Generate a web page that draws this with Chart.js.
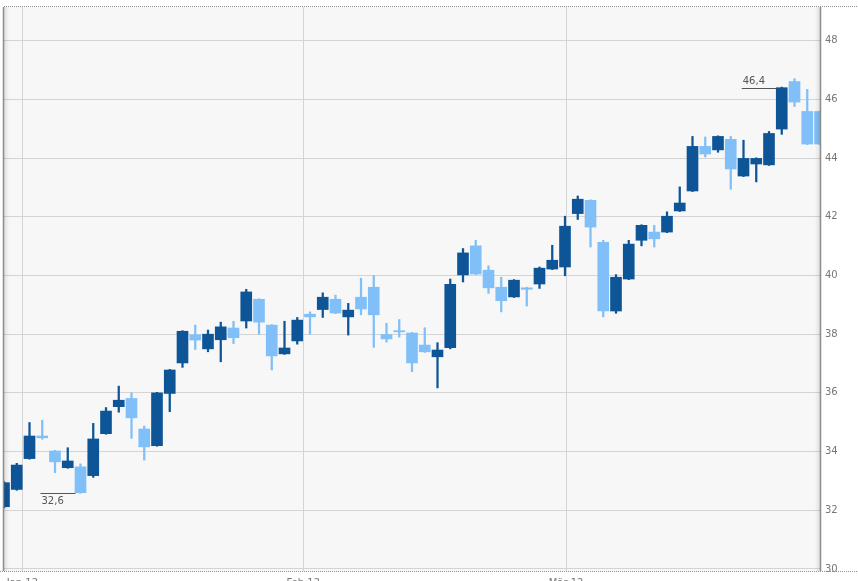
<!DOCTYPE html>
<html>
<head>
<meta charset="utf-8">
<script src="https://cdn.jsdelivr.net/npm/chart.js@4.4.1/dist/chart.umd.min.js"></script>
<style>
  html, body { margin: 0; padding: 0; background: #fff; overflow: hidden; }
  canvas { display: block; }
</style>
</head>
<body>
<canvas id="grafico" width="858" height="581"></canvas>
<script>
// daily candles, one per trading day
const openVals  = [32.12, 32.71, 33.76, 34.53, 34.02, 33.45, 33.48, 33.18, 34.61, 35.53,
                   35.81, 34.77, 34.20, 35.98, 37.02, 37.98, 37.50, 37.81, 38.21, 38.45,
                   39.19, 38.31, 37.33, 37.77, 38.68, 38.84, 39.19, 38.59, 39.26, 39.60,
                   37.99, 38.12, 38.04, 37.63, 37.23, 37.54, 40.02, 41.01, 40.18, 39.60,
                   39.27, 39.58, 39.71, 40.22, 40.29, 42.11, 42.56, 41.13, 38.79, 39.88,
                   41.20, 41.48, 41.48, 42.20, 42.88, 44.40, 44.28, 44.64, 43.39, 43.80,
                   43.77, 44.99, 46.61, 45.59, 45.59];
const highVals  = [32.98, 33.60, 34.99, 35.07, 34.04, 34.13, 33.58, 34.96, 35.50, 36.23,
                   36.00, 34.87, 36.02, 36.80, 38.12, 38.31, 38.14, 38.41, 38.44, 39.53,
                   39.21, 38.33, 38.44, 38.57, 38.76, 39.41, 39.33, 39.05, 39.91, 40.00,
                   38.37, 38.50, 38.06, 38.22, 37.71, 39.88, 40.92, 41.20, 40.33, 39.94,
                   39.86, 39.60, 40.29, 41.03, 42.02, 42.71, 42.58, 41.20, 40.03, 41.20,
                   41.73, 41.71, 42.17, 43.02, 44.74, 44.72, 44.76, 44.74, 44.61, 44.01,
                   44.91, 46.42, 46.71, 46.34, 45.61];
const lowVals   = [32.08, 32.68, 33.74, 34.42, 33.28, 33.43, 32.58, 33.12, 34.59, 35.34,
                   34.45, 33.71, 34.18, 35.36, 36.87, 37.48, 37.40, 37.06, 37.68, 38.21,
                   38.00, 36.78, 37.31, 37.66, 38.00, 38.57, 38.70, 37.97, 38.66, 37.55,
                   37.73, 37.90, 36.72, 37.38, 36.17, 37.50, 39.78, 40.03, 39.39, 38.76,
                   39.25, 38.96, 39.56, 40.20, 39.99, 41.91, 40.97, 38.59, 38.71, 39.86,
                   41.01, 40.97, 41.46, 42.18, 42.86, 44.04, 44.20, 42.94, 43.37, 43.19,
                   43.75, 44.81, 45.76, 44.46, 44.46];
const closeVals = [32.94, 33.54, 34.53, 34.47, 33.65, 33.68, 32.60, 34.43, 35.38, 35.75,
                   35.15, 34.16, 36.00, 36.78, 38.10, 37.80, 38.00, 38.25, 37.88, 39.44,
                   38.41, 37.26, 37.53, 38.48, 38.59, 39.26, 38.72, 38.82, 38.86, 38.66,
                   37.84, 38.08, 37.02, 37.40, 37.46, 39.70, 40.77, 40.05, 39.58, 39.14,
                   39.84, 39.53, 40.25, 40.52, 41.68, 42.60, 41.65, 38.79, 39.94, 41.07,
                   41.71, 41.25, 42.02, 42.47, 44.40, 44.14, 44.74, 43.63, 43.99, 43.99,
                   44.84, 46.40, 45.91, 44.48, 44.48];

const tickLabels = ['Jan 12', 'Feb 12', 'Mär 12'];
const tickAt     = [1.44, 23.47, 44.08];   // position on the trading-day axis
const yTicks     = [30, 32, 34, 36, 38, 40, 42, 44, 46, 48];

const colUp = '#0e5597';
const colDown = '#80bff7';

const idx = openVals.map((v, i) => i);
const bodyData = idx.map(i => ({ x: i, y: [openVals[i], closeVals[i]] }));
const wickData = idx.map(i => ({ x: i, y: [lowVals[i], highVals[i]] }));
const colores = idx.map(i => closeVals[i] >= openVals[i] ? colUp : colDown);

function fmt(v) {
    return v.toFixed(1).replace('.', ',');
}

// background, borders and dotted frame
const marco = {
    id: 'marco',
    beforeDraw(chart) {
        const c = chart.ctx;
        const a = chart.chartArea;
        c.save();
        c.fillStyle = '#f7f7f7';
        c.fillRect(a.left, a.top, a.right - a.left, a.bottom - a.top);
        c.restore();
    },
    afterDatasetsDraw(chart) {
        const c = chart.ctx;
        const a = chart.chartArea;
        const w = chart.width;
        c.save();
        // shadows
        let g = c.createLinearGradient(a.left, 0, a.left + 5, 0);
        g.addColorStop(0, 'rgba(0,0,0,0.10)');
        g.addColorStop(1, 'rgba(0,0,0,0)');
        c.fillStyle = g;
        c.fillRect(a.left, a.top, 5, a.bottom - a.top);
        g = c.createLinearGradient(a.right, 0, a.right - 5, 0);
        g.addColorStop(0, 'rgba(0,0,0,0.10)');
        g.addColorStop(1, 'rgba(0,0,0,0)');
        c.fillStyle = g;
        c.fillRect(a.right - 5, a.top, 5, a.bottom - a.top);
        // solid side lines
        c.strokeStyle = '#8c8c8c';
        c.lineWidth = 1.5;
        c.beginPath();
        c.moveTo(a.left - 0.5, a.top);
        c.lineTo(a.left - 0.5, a.bottom);
        c.moveTo(a.right + 0.5, a.top);
        c.lineTo(a.right + 0.5, a.bottom);
        c.stroke();
        // dotted top and bottom
        c.strokeStyle = '#8f8f8f';
        c.lineWidth = 1;
        c.setLineDash([1, 1]);
        c.beginPath();
        c.moveTo(a.left, a.top - 0.5);
        c.lineTo(w, a.top - 0.5);
        c.moveTo(0, a.bottom + 0.5);
        c.lineTo(w, a.bottom + 0.5);
        c.stroke();
        c.restore();
    }
};

// min / max close markers
const marcas = {
    id: 'marcas',
    afterDatasetsDraw(chart) {
        const c = chart.ctx;
        const xs = chart.scales.x;
        const ys = chart.scales.y;
        let iMin = 0, iMax = 0;
        closeVals.forEach((v, i) => {
            if (v < closeVals[iMin]) iMin = i;
            if (v > closeVals[iMax]) iMax = i;
        });
        c.save();
        c.strokeStyle = '#555';
        c.fillStyle = '#555';
        c.lineWidth = 1;
        c.font = '10px "DejaVu Sans", Verdana, sans-serif';
        c.textAlign = 'left';
        [[iMin, 'below'], [iMax, 'above']].forEach(([i, pos]) => {
            const px = xs.getPixelForValue(i);
            const py = Math.round(ys.getPixelForValue(closeVals[i])) + 0.5;
            c.beginPath();
            c.moveTo(px - 40, py);
            c.lineTo(px - 5, py);
            c.stroke();
            if (pos === 'below') {
                c.textBaseline = 'top';
                c.fillText(fmt(closeVals[i]), px - 39, py + 3);
            } else {
                c.textBaseline = 'bottom';
                c.fillText(fmt(closeVals[i]), px - 39, py - 2);
            }
        });
        c.restore();
    }
};

new Chart(document.getElementById('grafico'), {
    type: 'bar',
    data: {
        datasets: [{
            label: 'body',
            data: bodyData,
            backgroundColor: colores,
            barThickness: 11,
            grouped: false,
            borderWidth: 0,
            minBarLength: 1
        }, {
            label: 'wick',
            data: wickData,
            backgroundColor: colores,
            barThickness: 1.6,
            grouped: false,
            borderWidth: 0
        }]
    },
    options: {
        responsive: false,
        animation: false,
        layout: { padding: { left: 4, top: 7, right: 0, bottom: 0 } },
        plugins: {
            legend: { display: false },
            tooltip: { enabled: false }
        },
        scales: {
            x: {
                type: 'linear',
                min: 0,
                max: openVals.length - 1,
                offset: false,
                afterBuildTicks(scale) {
                    scale.ticks = tickAt.map(v => ({ value: v }));
                },
                afterFit(scale) {
                    scale.height = 10;
                    scale.paddingLeft = 0;
                    scale.paddingRight = 0;
                },
                ticks: {
                    autoSkip: false,
                    maxRotation: 0,
                    padding: 6,
                    color: '#777',
                    font: { family: '"DejaVu Sans", Verdana, sans-serif', size: 10 },
                    callback: (v, i) => tickLabels[i]
                },
                grid: { color: '#d4d4d4', drawTicks: false, offset: false },
                border: { display: false }
            },
            y: {
                position: 'right',
                min: 29.93,
                max: 49.15,
                afterBuildTicks(scale) {
                    scale.ticks = yTicks.map(v => ({ value: v }));
                },
                afterFit(scale) {
                    scale.width = 38;
                    scale.paddingTop = 0;
                    scale.paddingBottom = 0;
                },
                ticks: {
                    padding: 5,
                    color: '#777',
                    font: { family: '"DejaVu Sans", Verdana, sans-serif', size: 10 },
                    callback: v => String(v)
                },
                grid: { color: '#d4d4d4', drawTicks: false },
                border: { display: false }
            }
        }
    },
    plugins: [marco, marcas]
});
</script>
</body>
</html>
